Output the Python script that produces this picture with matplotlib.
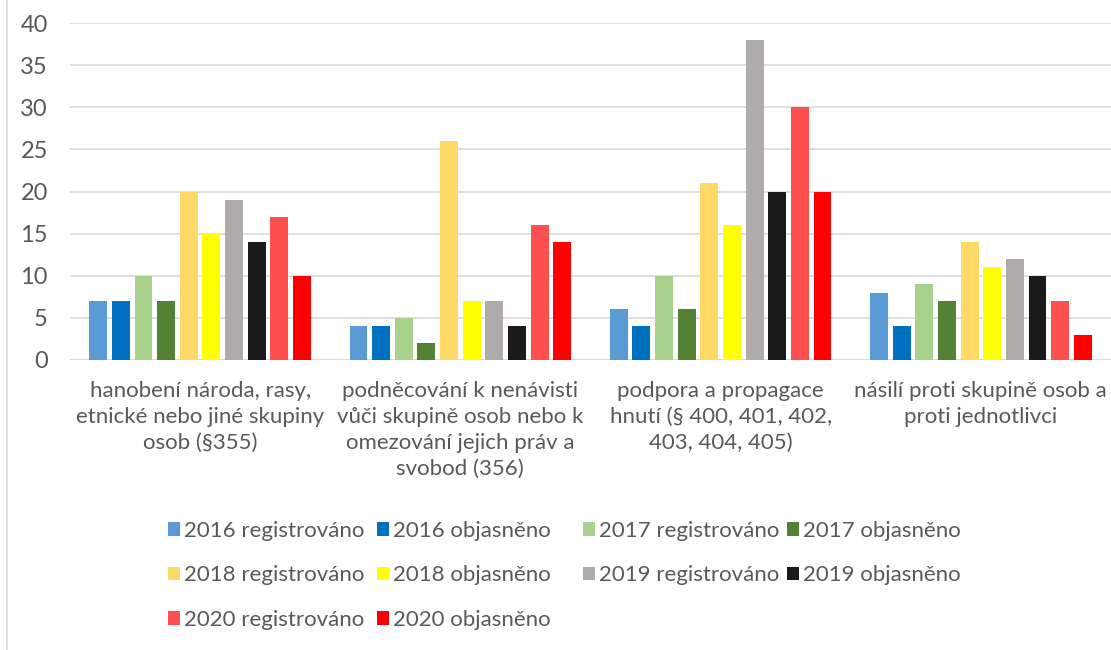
import matplotlib.pyplot as plt
from matplotlib.lines import Line2D
from matplotlib.patches import Patch
import numpy as np

plt.rcParams['font.family'] = ['Lato', 'DejaVu Sans']

categories = ['hanobení národa, rasy,\netnické nebo jiné skupiny\nosob (§355)',
              'podněcování k nenávisti\nvůči skupině osob nebo k\nomezování jejich práv a\nsvobod (356)',
              'podpora a propagace\nhnutí (§ 400, 401, 402,\n403, 404, 405)',
              'násilí proti skupině osob a\nproti jednotlivci']

series = ['2016 registrováno', '2016 objasněno', '2017 registrováno', '2017 objasněno',
          '2018 registrováno', '2018 objasněno', '2019 registrováno', '2019 objasněno',
          '2020 registrováno', '2020 objasněno']

reg_2016 = [7, 4, 6, 8]
obj_2016 = [7, 4, 4, 4]
reg_2017 = [10, 5, 10, 9]
obj_2017 = [7, 2, 6, 7]
reg_2018 = [20, 26, 21, 14]
obj_2018 = [15, 7, 16, 11]
reg_2019 = [19, 7, 38, 12]
obj_2019 = [14, 4, 20, 10]
reg_2020 = [17, 16, 30, 7]
obj_2020 = [10, 14, 20, 3]

values = [reg_2016, obj_2016, reg_2017, obj_2017, reg_2018,
          obj_2018, reg_2019, obj_2019, reg_2020, obj_2020]
colors = ['#5B9BD5', '#0070C0', '#A9D18E', '#548235', '#FFD966',
          '#FFFF00', '#AFABAB', '#1A1A1A', '#FF5050', '#FF0000']

txt = '#595959'
fs = 16
fig = plt.figure(figsize=(11.11, 6.5), dpi=100)
ax = fig.add_axes([70/1111, 1-360/650, 1-70/1111, (360-23)/650])

x = np.arange(len(categories))
step = 0.087
width = 0.069
for i, (vals, c) in enumerate(zip(values, colors)):
    ax.bar(x + (i - 4.5) * step, vals, width, color=c, label=series[i], zorder=3)

ax.set_xlim(-0.5, 3.5)
ax.set_ylim(0, 40)
ax.set_yticks(range(0, 41, 5))
ax.yaxis.grid(True, color='#D9D9D9', lw=1.2, zorder=0)
for s in ax.spines.values():
    s.set_visible(False)
ax.axhline(0, color='#D9D9D9', lw=1.2, zorder=2)
ax.set_xticks(x)
ax.set_xticklabels(categories, linespacing=1.38)
ax.tick_params(axis='both', length=0, colors=txt)
ax.tick_params(axis='x', pad=15, labelsize=fs)
ax.tick_params(axis='y', pad=16, labelsize=17)

# legend: one column per legend so columns are evenly spaced like Excel
col_x = [168, 377, 583, 787]
for c in range(4):
    idx = list(range(c, len(series), 4))
    handles = [Patch(facecolor=colors[k]) for k in idx]
    labels = [series[k] for k in idx]
    leg = fig.legend(handles, labels, loc='upper left', bbox_to_anchor=(col_x[c]/1111, 1-521/650),
                     frameon=False, fontsize=fs, handlelength=0.55, handleheight=0.55,
                     handletextpad=0.15, labelspacing=1.1, borderpad=0, borderaxespad=0)
    for t in leg.get_texts():
        t.set_color(txt)

fig.add_artist(Line2D([7/1111, 7/1111], [0, 1], color='#D9D9D9', lw=1.2))

plt.savefig('out.png', dpi=100)
